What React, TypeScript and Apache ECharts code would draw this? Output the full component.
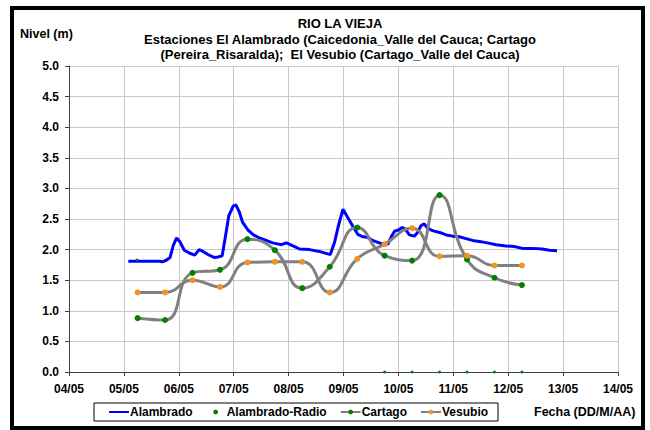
import React, { useEffect, useRef } from "react";
import * as echarts from "echarts";

// Alambrado (continuous gauge), day of May (fractional) and level (m)
const alambradoDays = [5.08, 5.4, 5.65, 5.7, 5.78, 5.84, 5.9, 5.96, 6.02, 6.1, 6.2, 6.29, 6.37, 6.44, 6.53, 6.65, 6.72, 6.79, 6.85, 6.91, 6.99, 7.04, 7.1, 7.16, 7.26, 7.36, 7.47, 7.59, 7.71, 7.87, 7.96, 8.08, 8.2, 8.38, 8.56, 8.71, 8.76, 8.84, 8.91, 8.99, 9.08, 9.17, 9.26, 9.35, 9.44, 9.53, 9.65, 9.73, 9.81, 9.87, 9.93, 10.0, 10.07, 10.13, 10.2, 10.29, 10.35, 10.41, 10.47, 10.53, 10.62, 10.75, 10.87, 10.99, 11.11, 11.23, 11.35, 11.5, 11.62, 11.78, 11.96, 12.11, 12.26, 12.44, 12.62, 12.75, 12.89];
const alambradoLevels = [1.81, 1.81, 1.81, 1.8, 1.83, 1.87, 2.07, 2.19, 2.13, 1.99, 1.94, 1.91, 2.0, 1.97, 1.92, 1.87, 1.88, 1.9, 2.22, 2.55, 2.71, 2.73, 2.62, 2.45, 2.32, 2.24, 2.19, 2.15, 2.11, 2.08, 2.11, 2.06, 2.01, 2.0, 1.97, 1.93, 1.92, 2.13, 2.4, 2.66, 2.52, 2.38, 2.25, 2.21, 2.2, 2.15, 2.11, 2.09, 2.09, 2.21, 2.3, 2.32, 2.36, 2.33, 2.24, 2.22, 2.28, 2.39, 2.42, 2.35, 2.31, 2.28, 2.24, 2.22, 2.21, 2.18, 2.15, 2.13, 2.11, 2.08, 2.06, 2.05, 2.02, 2.02, 2.01, 1.99, 1.98];

// Alambrado-Radio
const radioDays = [5.24, 9.75, 10.25, 10.75, 11.25, 11.75, 12.25];
const radioLevels = [1.83, 0, 0, 0, 0, 0, 0];

// Cartago and Vesubio readings
const readingDays = [5.25, 5.75, 6.25, 6.75, 7.25, 7.75, 8.25, 8.75, 9.25, 9.75, 10.25, 10.75, 11.25, 11.75, 12.25];
const cartagoLevels = [0.88, 0.85, 1.62, 1.67, 2.17, 1.99, 1.37, 1.72, 2.36, 1.9, 1.82, 2.89, 1.84, 1.54, 1.42];
const vesubioLevels = [1.3, 1.3, 1.5, 1.39, 1.79, 1.8, 1.8, 1.3, 1.85, 2.09, 2.35, 1.89, 1.9, 1.74, 1.74];

const titleLines = [
  "RIO LA VIEJA",
  "Estaciones El Alambrado (Caicedonia_Valle del Cauca; Cartago",
  "(Pereira_Risaralda);  El Vesubio (Cartago_Valle del Cauca)",
];
const yAxisTitle = "Nivel (m)";
const xAxisTitle = "Fecha (DD/M/AA)";
const monthSuffix = "/05";

const pair = (xs: number[], ys: number[]) => xs.map((x, i) => [x, ys[i]]);

const FONT = "'Liberation Sans', Arial, sans-serif";

export default function App() {
  const ref = useRef<HTMLDivElement>(null);
  useEffect(() => {
    if (!ref.current) return;
    const chart = echarts.init(ref.current, null, { renderer: "svg" });
    chart.setOption({
      animation: false,
      backgroundColor: "#ffffff",
      textStyle: { fontFamily: FONT },
      title: {
        text: titleLines.join("\n"),
        left: 340,
        top: 16,
        padding: 0,
        textAlign: "center",
        textStyle: {
          fontFamily: FONT,
          fontSize: 13,
          fontWeight: "bold",
          color: "#000",
          lineHeight: 15.5,
        },
      },
      grid: { left: 69, right: 32, top: 66, bottom: 58 },
      xAxis: {
        type: "value",
        min: 4,
        max: 14,
        interval: 1,
        axisLine: { show: true, lineStyle: { color: "#404040", width: 1 } },
        axisTick: { show: true, length: 4, lineStyle: { color: "#404040" } },
        splitLine: { show: true, lineStyle: { color: "#c8c8c8", width: 1 } },
        axisLabel: {
          margin: 11,
          fontFamily: FONT,
          fontSize: 12,
          fontWeight: "bold",
          color: "#000",
          formatter: (v: number) => (v < 10 ? "0" : "") + v + monthSuffix,
        },
      },
      yAxis: {
        type: "value",
        min: 0,
        max: 5,
        interval: 0.5,
        axisLine: { show: true, lineStyle: { color: "#404040", width: 1 } },
        axisTick: { show: true, length: 4, lineStyle: { color: "#404040" } },
        splitLine: { show: true, lineStyle: { color: "#c8c8c8", width: 1 } },
        axisLabel: {
          margin: 10,
          fontFamily: FONT,
          fontSize: 12,
          fontWeight: "bold",
          color: "#000",
          formatter: (v: number) => v.toFixed(1),
        },
      },
      legend: {
        left: 94,
        top: 403,
        itemGap: 13,
        itemWidth: 20,
        itemHeight: 6,
        padding: [3, 10, 3, 14],
        borderColor: "#000",
        borderWidth: 1,
        backgroundColor: "#fff",
        textStyle: { fontFamily: FONT, fontSize: 12, fontWeight: "bold", color: "#000", padding: [0, 0, 0, -4] },
        data: [
          { name: "Alambrado", itemStyle: { opacity: 0 } },
          { name: "Alambrado-Radio" },
          { name: "Cartago" },
          { name: "Vesubio" },
        ],
      },
      graphic: [
        {
          type: "rect",
          shape: { x: 12, y: 8, width: 631, height: 420 },
          style: { fill: "none", stroke: "#000", lineWidth: 4 },
          silent: true,
        },
        {
          type: "text",
          x: 20,
          y: 34,
          style: { text: yAxisTitle, font: `bold 12.5px ${FONT}`, fill: "#000", textVerticalAlign: "middle" },
        },
        {
          type: "text",
          x: 534,
          y: 412,
          style: { text: xAxisTitle, font: `bold 12.5px ${FONT}`, fill: "#000", textVerticalAlign: "middle" },
        },
      ],
      series: [
        {
          name: "Alambrado",
          type: "line",
          data: pair(alambradoDays, alambradoLevels),
          symbol: "none",
          lineStyle: { color: "#0000ff", width: 3 },
          itemStyle: { color: "#0000ff" },
          smooth: false,
        },
        {
          name: "Alambrado-Radio",
          type: "line",
          data: pair(radioDays, radioLevels),
          symbol: "circle",
          symbolSize: 3,
          showAllSymbol: true,
          lineStyle: { color: "#008000", width: 0, opacity: 0 },
          itemStyle: { color: "#008000" },
        },
        {
          name: "Cartago",
          type: "line",
          data: pair(readingDays, cartagoLevels),
          smooth: 0.5,
          symbol: "circle",
          symbolSize: 6,
          showAllSymbol: true,
          lineStyle: { color: "#808080", width: 3 },
          itemStyle: { color: "#008000" },
        },
        {
          name: "Vesubio",
          type: "line",
          data: pair(readingDays, vesubioLevels),
          smooth: 0.5,
          symbol: "circle",
          symbolSize: 6,
          showAllSymbol: true,
          lineStyle: { color: "#808080", width: 3 },
          itemStyle: { color: "#f39324" },
        },
      ],
    });
    return () => chart.dispose();
  }, []);
  return (
    <div
      ref={ref}
      style={{ position: "fixed", left: 0, top: 0, width: 650, height: 430, background: "#fff" }}
    />
  );
}
